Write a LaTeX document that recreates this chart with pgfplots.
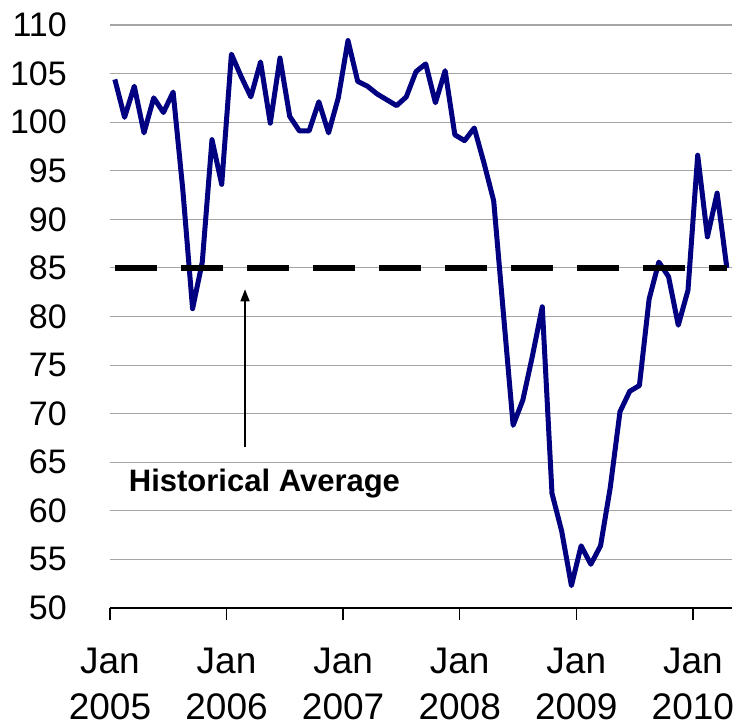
\documentclass[border=0pt]{standalone}
\usepackage{fontspec}
\setmainfont{Liberation Sans}
\usepackage{pgfplots}
\pgfplotsset{compat=1.18}
\usetikzlibrary{arrows.meta}
\definecolor{idxnavy}{RGB}{0,0,128}
\definecolor{gridgray}{RGB}{165,165,165}

\begin{document}
\begin{tikzpicture}
\path[use as bounding box] (-110bp,-119bp) rectangle (632bp,608bp);
\begin{axis}[
  at={(0,0)}, anchor=south west,
  scale only axis, width=621.7bp, height=583bp,
  xmin=0, xmax=64, ymin=50, ymax=110,
  axis x line=bottom, axis y line=left,
  x axis line style={-, line width=1.5bp, black},
  y axis line style={draw=none},
  ytick={50,55,...,110},
  ytick style={draw=none},
  ymajorgrids, grid style={gridgray, line width=1.1bp},
  xtick={0,12,24,36,48,60},
  xticklabels={Jan\\2005,Jan\\2006,Jan\\2007,Jan\\2008,Jan\\2009,Jan\\2010},
  tick align=outside, major tick length=12bp,
  xtick style={black, line width=1.5bp},
  /pgf/number format/assume math mode=true,
  yticklabel style={font=\fontsize{34bp}{40bp}\selectfont, anchor=east, inner sep=0pt, xshift=-31bp},
  xticklabel style={font=\fontsize{37bp}{46bp}\selectfont, align=center, anchor=north, inner sep=0pt, yshift=-28bp},
  clip=false,
]
\addplot[idxnavy, line width=5bp, line join=round, mark=none] coordinates {
  (0.5,104.4)(1.5,100.5)(2.5,103.7)(3.5,98.9)(4.5,102.5)(5.5,101.0)
  (6.5,103.1)(7.5,93.0)(8.5,80.8)(9.5,85.6)(10.5,98.2)(11.5,93.6)
  (12.5,107.0)(13.5,104.7)(14.5,102.6)(15.5,106.2)(16.5,99.9)(17.5,106.6)
  (18.5,100.6)(19.5,99.1)(20.5,99.1)(21.5,102.1)(22.5,98.9)(23.5,102.5)
  (24.5,108.4)(25.5,104.2)(26.5,103.7)(27.5,102.9)(28.5,102.3)(29.5,101.7)
  (30.5,102.6)(31.5,105.2)(32.5,106.0)(33.5,102.0)(34.5,105.3)(35.5,98.7)
  (36.5,98.1)(37.5,99.4)(38.5,95.8)(39.5,91.9)(40.5,80.3)(41.5,68.8)
  (42.5,71.4)(43.5,76.0)(44.5,81.0)(45.5,61.8)(46.5,57.9)(47.5,52.3)
  (48.5,56.4)(49.5,54.5)(50.5,56.4)(51.5,62.4)(52.5,70.2)(53.5,72.3)
  (54.5,72.9)(55.5,81.8)(56.5,85.6)(57.5,84.1)(58.5,79.1)(59.5,82.7)
  (60.5,96.6)(61.5,88.2)(62.5,92.7)(63.5,85.0)
};
% historical average
\addplot[black, line width=6bp, dash pattern=on 41.7bp off 24.3bp, mark=none] coordinates {
  (0.5,85)(63.5,85)
};
\draw[-{Triangle[length=12bp,width=9bp]}, line width=1.5bp] (axis cs:13.9,66.6) -- (axis cs:13.9,82.8);
\node[fill=white, font=\bfseries\fontsize{31bp}{36bp}\selectfont, inner xsep=9bp, inner ysep=3bp] at (axis cs:15.9,62.8) {Historical Average};
\end{axis}
\end{tikzpicture}
\end{document}
